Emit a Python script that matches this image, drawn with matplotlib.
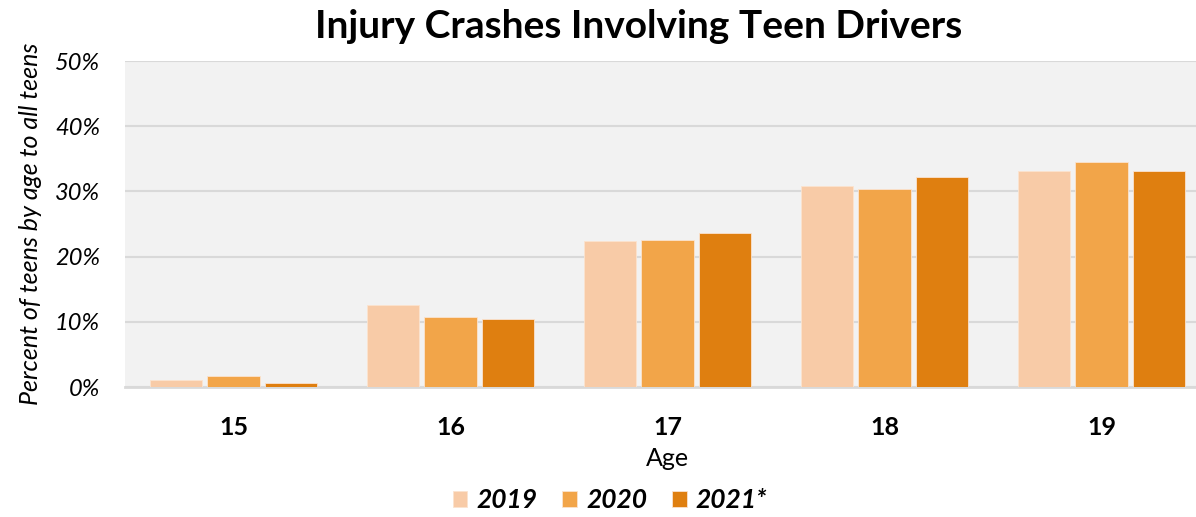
import numpy as np
import matplotlib.pyplot as plt
from matplotlib.ticker import PercentFormatter

ages = ["15", "16", "17", "18", "19"]
years = ["2019", "2020", "2021*"]
pct_2019 = [1.1, 12.6, 22.4, 30.8, 33.1]
pct_2020 = [1.7, 10.8, 22.5, 30.3, 34.5]
pct_2021 = [0.6, 10.4, 23.6, 32.2, 33.1]

colors = ["#F8CBA7", "#F2A549", "#DF7F10"]

plt.rcParams['font.family'] = ['Lato', 'DejaVu Sans']

fig = plt.figure(figsize=(11.96, 5.17), dpi=100)
# plot area runs a little past the right edge of the picture, as in the source
ax = fig.add_axes([125 / 1196, 1 - 387 / 517, 1085 / 1196, 326 / 517])
ax.set_facecolor("#F2F2F2")

x = np.arange(len(ages))
w = 0.24
step = 0.265
for i, (vals, c, lab) in enumerate(zip([pct_2019, pct_2020, pct_2021], colors, years)):
    ax.bar(x + (i - 1) * step, vals, width=w, color=c, edgecolor="#FBE3CF",
           linewidth=0.6, label=lab, zorder=3)

ax.set_xlim(-0.5, len(ages) - 0.5)
ax.set_ylim(0, 50)
ax.set_yticks(np.arange(0, 51, 10))
ax.yaxis.set_major_formatter(PercentFormatter(decimals=0))
ax.grid(axis="y", color="#D9D9D9", linewidth=1.5, zorder=0)
for s in ["top", "right", "left"]:
    ax.spines[s].set_visible(False)
ax.spines["bottom"].set_color("#D9D9D9")
ax.spines["bottom"].set_linewidth(2)
ax.tick_params(axis="both", length=0)
ax.tick_params(axis="y", pad=18)
ax.tick_params(axis="x", pad=21)

ax.set_xticks(x)
ax.set_xticklabels(ages, fontsize=18, fontweight="bold")
for t in ax.get_yticklabels():
    t.set_fontsize(17)
    t.set_fontstyle("italic")

ax.set_xlabel("Age", fontsize=18, labelpad=6)
ax.set_ylabel("Percent of teens by age to all teens", fontsize=18,
              fontstyle="italic", labelpad=9)

fig.text(639 / 1196, 1 - 27 / 517, "Injury Crashes Involving Teen Drivers",
         fontsize=28, fontweight="bold", ha="center", va="center")

leg = fig.legend(loc="center", ncol=3, frameon=False,
                 bbox_to_anchor=(610 / 1196, 1 - 500 / 517), handlelength=0.55,
                 handleheight=0.55, columnspacing=0.95, handletextpad=0.35,
                 prop={"size": 19, "weight": "bold", "style": "italic"})

fig.savefig("out.png", dpi=100)
